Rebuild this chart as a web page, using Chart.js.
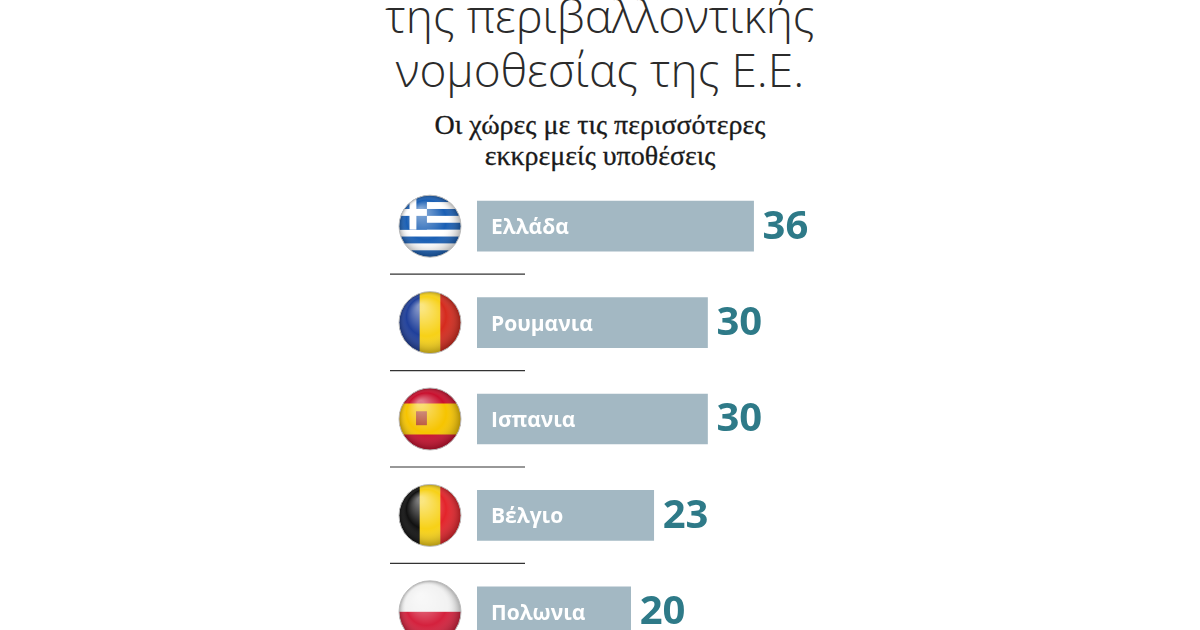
<!DOCTYPE html>
<html><head><meta charset="utf-8">
<script src="https://cdn.jsdelivr.net/npm/chart.js@4"></script>
<style>
html,body{margin:0;padding:0;width:1200px;height:630px;overflow:hidden;background:#fff}
#wrap{position:absolute;left:0;top:0;width:1200px;height:700px}
.t{position:absolute;left:0;width:1200px;text-align:center;white-space:nowrap}
.h{font-family:"Open Sans",sans-serif;font-weight:300;font-size:46px;color:#2b2b2b}
.s{font-family:"Liberation Serif",serif;font-size:28px;color:#1a1a1a;-webkit-text-stroke:0.3px #1a1a1a}
</style></head><body>
<div class="t h" style="top:-16px">της περιβαλλοντικής</div>
<div class="t h" style="top:38px">νομοθεσίας της Ε.Ε.</div>
<div class="t s" style="top:109px">Οι χώρες με τις περισσότερες</div>
<div class="t s" style="top:140px">εκκρεμείς υποθέσεις</div>
<div id="wrap"><canvas id="c" width="1200" height="700"></canvas></div>
<script>
const countries=["Ελλάδα","Ρουμανια","Ισπανια","Βέλγιο","Πολωνια"];
const cases=[36,30,30,23,20];
const flags=["gr","ro","es","be","pl"];
function drawFlag(ctx,code,cx,cy,r){
  ctx.save();ctx.beginPath();ctx.arc(cx,cy,r,0,Math.PI*2);ctx.clip();
  const x=cx-r,y=cy-r,w=2*r,h=2*r;
  if(code==="gr"){
    const sh=h/9;
    for(let i=0;i<9;i++){ctx.fillStyle=i%2?"#fff":"#1a5fb4";ctx.fillRect(x,y+i*sh,w,sh+0.5);}
    ctx.fillStyle="#1a5fb4";ctx.fillRect(x,y,w*0.45,sh*5);
    ctx.fillStyle="#fff";ctx.fillRect(x,y+sh*2,w*0.45,sh);ctx.fillRect(x+w*0.45/2-sh/2,y,sh,sh*5);
  }else if(code==="ro"||code==="be"){
    const cols=code==="ro"?["#1f3f9a","#f7d117","#d52b1e"]:["#111","#f7d117","#e3242b"];
    cols.forEach((c,i)=>{ctx.fillStyle=c;ctx.fillRect(x+i*w/3,y,w/3+0.5,h);});
  }else if(code==="es"){
    ctx.fillStyle="#c8102e";ctx.fillRect(x,y,w,h);
    ctx.fillStyle="#f6c400";ctx.fillRect(x,y+h/4,w,h/2);
    ctx.fillStyle="#b3472b";ctx.fillRect(cx-r*0.45,cy-r*0.25,r*0.35,r*0.45);
  }else if(code==="pl"){
    ctx.fillStyle="#f2f2f2";ctx.fillRect(x,y,w,h/2);
    ctx.fillStyle="#d4213d";ctx.fillRect(x,cy,w,h/2);
  }
  const g=ctx.createRadialGradient(cx-r*0.3,cy-r*0.5,r*0.1,cx,cy,r);
  g.addColorStop(0,"rgba(255,255,255,0.45)");g.addColorStop(0.6,"rgba(255,255,255,0)");g.addColorStop(1,"rgba(0,0,0,0.3)");
  ctx.fillStyle=g;ctx.fillRect(x,y,w,h);
  ctx.restore();
  ctx.beginPath();ctx.arc(cx,cy,r,0,Math.PI*2);ctx.strokeStyle="#bbb";ctx.lineWidth=1;ctx.stroke();
}
const deco={id:"deco",afterDatasetsDraw(chart){
  const ctx=chart.ctx,meta=chart.getDatasetMeta(0);
  meta.data.forEach((bar,i)=>{
    const cy=bar.y;
    drawFlag(ctx,flags[i],430,cy,31);
    ctx.fillStyle="#fff";ctx.font="bold 21px 'Open Sans',sans-serif";ctx.textBaseline="middle";ctx.textAlign="left";
    ctx.fillText(countries[i],bar.base+14,cy+2);
    ctx.fillStyle="#2e7a88";ctx.font="bold 40px 'Open Sans',sans-serif";
    ctx.fillText(String(cases[i]),bar.x+9,cy+1);
    if(i<meta.data.length-1){ctx.strokeStyle="#333";ctx.lineWidth=1.2;ctx.beginPath();ctx.moveTo(390,cy+48);ctx.lineTo(525,cy+48);ctx.stroke();}
  });
}};
new Chart(document.getElementById("c"),{type:"bar",
  data:{labels:countries,datasets:[{data:cases,backgroundColor:"#a3b8c3",barThickness:50,borderWidth:0}]},
  options:{indexAxis:"y",responsive:false,animation:false,
    layout:{padding:{left:477,right:262,top:178,bottom:40}},
    plugins:{legend:{display:false},tooltip:{enabled:false}},
    scales:{x:{display:false,min:0,max:60},y:{display:false}}},
  plugins:[deco]});
</script></body></html>
